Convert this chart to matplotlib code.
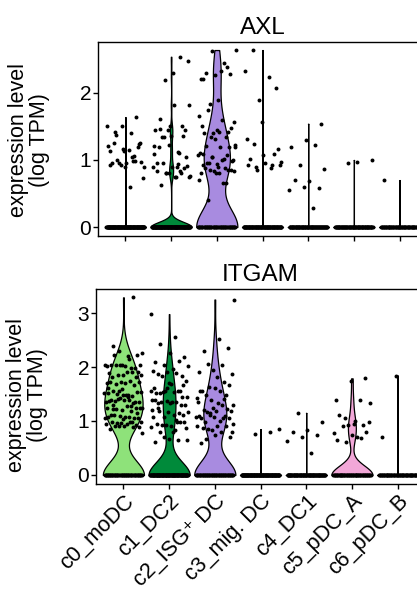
import numpy as np
import matplotlib
matplotlib.use("Agg")
import matplotlib.pyplot as plt

plt.rcParams['font.family'] = ['Liberation Sans', 'DejaVu Sans']

# clusters and fill colours
clusters = ["c0_moDC", "c1_DC2", "c2_ISG⁺ DC", "c3_mig. DC", "c4_DC1", "c5_pDC_A", "c6_pDC_B"]
colors = ["#8ee27a", "#008a3a", "#a88be0", "#d0d0d0", "#d0d0d0", "#f2a7d8", "#d0d0d0"]
# cells per cluster (cells not listed below sit at 0)
n_cells = [150, 171, 110, 110, 90, 77, 60]

# non-zero expression values (log TPM)
axl_c0 = [1.64, 1.51, 1.50, 1.40, 1.37, 1.25, 0.89, 0.93, 1.06, 0.95, 0.73, 1.15, 1.25, 1.20,
          1.17, 1.21, 1.05, 1.00, 0.97, 0.95, 0.96, 0.99, 0.92, 0.90, 0.59, 1.41, 1.24, 1.13,
          1.13, 0.99]
axl_c1 = [2.54, 2.20, 1.82, 1.82, 1.61, 1.36, 1.22, 1.09, 1.12, 0.95, 0.91, 0.90, 0.83, 0.80,
          0.80, 0.76, 0.75, 0.63, 1.45, 1.50, 1.45, 1.10, 1.35, 2.47, 2.30, 1.20, 1.50, 1.45,
          0.90, 0.90, 1.35, 1.05, 1.36, 0.96, 0.83, 0.80, 0.75, 0.75, 1.46, 0.88, 0.81, 1.21,
          0.94]
axl_c2 = [1.90, 2.21, 2.39, 2.63, 2.64, 2.33, 2.30, 2.28, 2.27, 2.21, 2.44, 1.84, 1.56, 1.42,
          1.40, 1.41, 1.40, 1.65, 1.60, 1.75, 1.47, 1.45, 1.50, 1.35, 1.35, 1.22, 1.20, 1.21,
          1.19, 1.32, 1.10, 1.02, 0.96, 1.00, 0.90, 1.09, 1.07, 1.05, 1.07, 1.00, 0.95, 0.85,
          0.81, 0.80, 0.88, 0.85, 0.83, 0.80, 0.88, 0.85, 0.83, 0.70, 0.65, 0.40, 0.98, 0.94,
          0.93, 0.66, 1.05, 1.20]
axl_c3 = [2.64, 2.07, 1.57, 1.32, 0.88, 0.90, 0.93, 0.95, 1.01, 1.09, 1.89, 2.32, 2.24, 1.24,
          1.17, 1.07, 0.93, 0.93, 0.85, 0.97]
axl_c4 = [1.54, 1.30, 1.19, 1.22, 0.92, 0.86, 0.68, 0.70, 0.58, 0.60, 0.55, 0.29]
axl_c5 = [0.95, 1.00, 0.97]
axl_c6 = [0.70]

itgam_c0 = [3.29, 2.29, 2.26, 2.20, 2.38, 2.23, 2.04, 2.01, 1.99, 2.03, 2.04, 2.01, 2.03, 1.99,
            2.04, 2.03, 2.15, 2.23, 1.90, 1.85, 1.88, 1.90, 1.86, 1.85, 1.91, 1.82, 1.82, 1.73,
            1.70, 1.74, 1.68, 1.73, 1.70, 1.73, 1.67, 1.55, 1.51, 1.48, 1.56, 1.53, 1.48, 1.51,
            1.47, 1.50, 1.53, 1.48, 1.39, 1.36, 1.42, 1.35, 1.39, 1.37, 1.35, 1.39, 1.37, 1.33,
            1.41, 1.24, 1.27, 1.23, 1.25, 1.21, 1.24, 1.19, 1.23, 1.24, 1.08, 1.11, 1.06, 1.10,
            1.05, 1.08, 1.11, 1.06, 1.04, 1.08, 0.99, 0.96, 0.98, 0.94, 0.99, 0.93, 0.96, 0.94,
            0.99, 0.90, 0.88, 0.90, 0.85, 0.88, 0.90, 0.77, 1.45, 1.30, 1.15, 1.60, 1.62, 1.28]
itgam_c1 = [2.98, 2.55, 2.42, 2.18, 2.26, 2.10, 2.11, 2.04, 2.01, 1.97, 1.87, 1.84, 1.90, 1.93,
            1.88, 1.84, 1.74, 1.68, 1.51, 1.55, 1.56, 1.56, 1.53, 1.51, 1.67, 1.70, 1.61, 1.56,
            1.53, 1.45, 1.36, 1.33, 1.30, 1.37, 1.39, 1.35, 1.36, 1.30, 1.33, 1.39, 1.14, 1.08,
            1.17, 1.11, 1.19, 1.12, 1.17, 1.08, 0.99, 0.93, 0.87, 0.90, 0.94, 0.98, 0.93, 0.88,
            0.83, 0.80, 0.99, 0.67, 0.62, 0.65, 0.71, 0.65, 0.80, 1.25, 1.45, 1.62, 1.20, 1.02]
itgam_c2 = [3.25, 2.52, 2.29, 2.36, 1.95, 1.90, 2.03, 2.05, 1.87, 1.82, 1.56, 1.48, 1.39, 1.42,
            1.56, 1.48, 1.67, 1.61, 1.56, 1.73, 1.63, 1.30, 1.33, 1.21, 1.23, 1.25, 1.36, 1.29,
            1.17, 1.19, 1.19, 1.06, 1.10, 1.12, 1.08, 1.00, 0.99, 1.05, 1.08, 1.10, 1.05, 0.85,
            0.80, 0.90, 0.87, 0.91, 0.83, 0.90, 0.80, 0.67, 0.71, 0.74, 0.59, 1.40, 1.15, 0.95]
itgam_c3 = [0.79, 0.75, 0.85]
itgam_c4 = [1.15, 0.99, 0.83, 0.80, 0.74, 0.70, 0.63, 0.41]
itgam_c5 = [1.79, 1.75, 1.39, 1.39, 1.05, 0.99, 0.95, 1.12, 0.92, 0.92, 0.78, 0.71, 0.90, 0.80,
            0.74, 0.65, 0.68, 0.62, 1.33, 1.00]
itgam_c6 = [1.84, 0.70]

genes = ["AXL", "ITGAM"]
nonzero = {
    "AXL": [axl_c0, axl_c1, axl_c2, axl_c3, axl_c4, axl_c5, axl_c6],
    "ITGAM": [itgam_c0, itgam_c1, itgam_c2, itgam_c3, itgam_c4, itgam_c5, itgam_c6],
}
yticks = {"AXL": [0, 1, 2], "ITGAM": [0, 1, 2, 3]}


def cluster_values(vals, n):
    return np.concatenate([np.zeros(n - len(vals)), np.array(vals, float)])


def violin(vals):
    # gaussian kde, nrd0 bandwidth, trimmed, scaled to width (like geom_violin)
    n = len(vals)
    q25, q75 = np.percentile(vals, [25, 75])
    lo = min(vals.std(ddof=1), (q75 - q25) / 1.34)
    if lo == 0:
        lo = 1e-5  # Seurat adds tiny noise to the values
    bw = 0.9 * lo * n ** -0.2
    y = np.linspace(vals.min(), vals.max(), 512)
    d = np.exp(-0.5 * ((y[:, None] - vals[None, :]) / bw) ** 2).sum(axis=1)
    return y, d / d.max()


fig = plt.figure(figsize=(4.17, 5.90), dpi=100)
W, H = 417.0, 590.0
positions = {
    "AXL": [98 / W, (H - 236) / H, 329 / W, 194 / H],
    "ITGAM": [96 / W, (H - 484) / H, 329 / W, 195 / H],
}
ylims = {"AXL": (-0.134, 2.76), "ITGAM": (-0.167, 3.445)}
label_y = {"AXL": 0.495, "ITGAM": 0.455}

for gene in genes:
    ax = fig.add_axes(positions[gene])
    for i, (vals, n) in enumerate(zip(nonzero[gene], n_cells)):
        v = cluster_values(vals, n)
        y, w = violin(v)
        ax.fill_betweenx(y, i - 0.45 * w, i + 0.45 * w, facecolor=colors[i],
                         edgecolor="black", linewidth=0.9, zorder=2)
        k = np.arange(len(v)) + 1
        jit = ((k * 0.6180339887) % 1.0 - 0.5) * 0.84
        ax.scatter(i + jit, v, s=8, color="black", linewidths=0, zorder=3)

    ax.set_xlim(-0.6, 6.6)
    ax.set_ylim(*ylims[gene])
    ax.set_yticks(yticks[gene])
    ax.set_xticks(range(len(clusters)))
    ax.tick_params(direction="out", length=3.5, width=1, labelsize=15, pad=1.5)
    if gene == "ITGAM":
        ax.set_xticklabels(clusters, rotation=45, ha="right", rotation_mode="anchor",
                           fontsize=15.5)
    else:
        ax.set_xticklabels([])
    for s in ax.spines.values():
        s.set_linewidth(1.0)
    ax.set_title(gene, fontsize=17.5, pad=6)
    ax.set_ylabel("expression level\n(log TPM)", fontsize=15.5, linespacing=1.0)
    ax.yaxis.set_label_coords(-0.145, label_y[gene])

fig.savefig("out.png", dpi=100)
